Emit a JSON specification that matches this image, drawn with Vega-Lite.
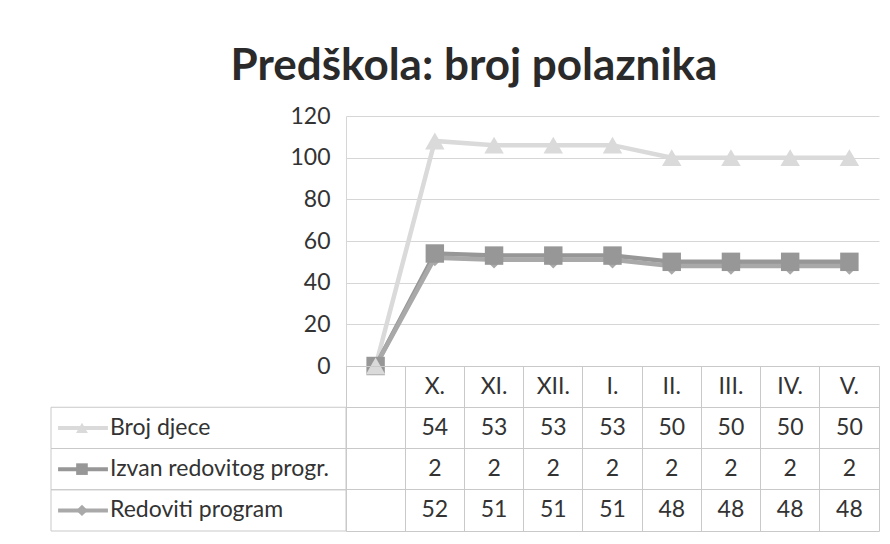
{
  "$schema": "https://vega.github.io/schema/vega-lite/v6.json",
  "background": "white",
  "padding": {"left": 50, "top": 45, "right": 10, "bottom": 5},
  "title": {"text": "Predškola: broj polaznika", "font": "Lato", "fontSize": 44, "fontWeight": "bold", "color": "#2a2a2a", "anchor": "middle", "offset": 16, "dx": 9},
  "datasets": {
    "d": [
      {"cat": "", "series": "Broj djece", "value": 0},
      {"cat": "X.", "series": "Broj djece", "value": 54},
      {"cat": "XI.", "series": "Broj djece", "value": 53},
      {"cat": "XII.", "series": "Broj djece", "value": 53},
      {"cat": "I.", "series": "Broj djece", "value": 53},
      {"cat": "II.", "series": "Broj djece", "value": 50},
      {"cat": "III.", "series": "Broj djece", "value": 50},
      {"cat": "IV.", "series": "Broj djece", "value": 50},
      {"cat": "V.", "series": "Broj djece", "value": 50},
      {"cat": "", "series": "Izvan redovitog progr.", "value": 0},
      {"cat": "X.", "series": "Izvan redovitog progr.", "value": 2},
      {"cat": "XI.", "series": "Izvan redovitog progr.", "value": 2},
      {"cat": "XII.", "series": "Izvan redovitog progr.", "value": 2},
      {"cat": "I.", "series": "Izvan redovitog progr.", "value": 2},
      {"cat": "II.", "series": "Izvan redovitog progr.", "value": 2},
      {"cat": "III.", "series": "Izvan redovitog progr.", "value": 2},
      {"cat": "IV.", "series": "Izvan redovitog progr.", "value": 2},
      {"cat": "V.", "series": "Izvan redovitog progr.", "value": 2},
      {"cat": "", "series": "Redoviti program", "value": 0},
      {"cat": "X.", "series": "Redoviti program", "value": 52},
      {"cat": "XI.", "series": "Redoviti program", "value": 51},
      {"cat": "XII.", "series": "Redoviti program", "value": 51},
      {"cat": "I.", "series": "Redoviti program", "value": 51},
      {"cat": "II.", "series": "Redoviti program", "value": 48},
      {"cat": "III.", "series": "Redoviti program", "value": 48},
      {"cat": "IV.", "series": "Redoviti program", "value": 48},
      {"cat": "V.", "series": "Redoviti program", "value": 48}
    ]
  },
  "data": {"name": "d"},
  "columns": 2,
  "spacing": 0,
  "bounds": "flush",
  "concat": [
    {
      "width": 295,
      "height": 250,
      "mark": {"type": "text"},
      "encoding": {"text": {"value": ""}}
    },
    {
      "width": 533,
      "height": 250,
      "transform": [
        {"stack": "value", "groupby": ["cat"], "sort": [{"field": "series", "order": "descending"}], "as": ["v0", "v1"]}
      ],
      "encoding": {
        "x": {"field": "cat", "type": "ordinal", "sort": null, "scale": {"type": "point", "domain": ["", "X.", "XI.", "XII.", "I.", "II.", "III.", "IV.", "V."], "padding": 0.5}, "axis": null},
        "y": {"field": "v1", "type": "quantitative", "scale": {"domain": [0, 120], "nice": false},
              "axis": {"values": [0, 20, 40, 60, 80, 100, 120], "title": null, "grid": true, "gridColor": "#d6d6d6", "ticks": false, "domainColor": "#d6d6d6", "labelFontSize": 23, "labelColor": "#333333", "labelPadding": 16, "labelFont": "Lato"}},
        "color": {"field": "series", "type": "nominal", "scale": {"domain": ["Redoviti program", "Izvan redovitog progr.", "Broj djece"], "range": ["#a9a9a9", "#979797", "#dadada"]}, "legend": null}
      },
      "layer": [
        {"mark": {"type": "line", "strokeWidth": 4.5}},
        {"mark": {"type": "point", "filled": true, "opacity": 1},
         "encoding": {
           "shape": {"field": "series", "type": "nominal", "scale": {"domain": ["Redoviti program", "Izvan redovitog progr.", "Broj djece"], "range": ["diamond", "square", "triangle-up"]}, "legend": null},
           "size": {"field": "series", "type": "nominal", "scale": {"domain": ["Redoviti program", "Izvan redovitog progr.", "Broj djece"], "range": [300, 380, 560]}, "legend": null},
           "order": {"field": "series", "sort": "descending"}
         }}
      ]
    },
    {
      "width": 295,
      "height": 165,
      "transform": [{"filter": "datum.cat === 'X.'"}],
      "encoding": {
        "y": {"field": "series", "type": "nominal", "scale": {"type": "band", "domain": ["hdr", "Broj djece", "Izvan redovitog progr.", "Redoviti program"], "paddingInner": 0, "paddingOuter": 0}, "axis": null}
      },
      "layer": [
        {"mark": {"type": "rect", "filled": false, "color": "#c9c9c9", "strokeWidth": 1}},
        {"mark": {"type": "rule", "strokeWidth": 4},
         "encoding": {
           "x": {"datum": 0.024, "type": "quantitative", "scale": {"domain": [0, 1], "nice": false}, "axis": null},
           "x2": {"datum": 0.193},
           "color": {"field": "series", "type": "nominal", "scale": {"domain": ["Redoviti program", "Izvan redovitog progr.", "Broj djece"], "range": ["#a9a9a9", "#979797", "#dadada"]}, "legend": null}
         }},
        {"mark": {"type": "point", "filled": true, "opacity": 1},
         "encoding": {
           "x": {"datum": 0.105, "type": "quantitative"},
           "color": {"field": "series", "type": "nominal", "legend": null},
           "shape": {"field": "series", "type": "nominal", "scale": {"domain": ["Redoviti program", "Izvan redovitog progr.", "Broj djece"], "range": ["diamond", "square", "triangle-up"]}, "legend": null},
           "size": {"field": "series", "type": "nominal", "scale": {"domain": ["Redoviti program", "Izvan redovitog progr.", "Broj djece"], "range": [130, 140, 200]}, "legend": null}
         }},
        {"mark": {"type": "text", "align": "left", "fontSize": 23, "color": "#333333", "font": "Lato"},
         "encoding": {
           "x": {"datum": 0.2, "type": "quantitative"},
           "text": {"field": "series"}
         }}
      ],
      "resolve": {"scale": {"size": "independent"}}
    },
    {
      "width": 533,
      "height": 165,
      "view": {"stroke": "#c9c9c9"},
      "transform": [{"filter": "datum.cat !== ''"}],
      "mark": {"type": "text", "fontSize": 23, "color": "#333333", "font": "Lato"},
      "encoding": {
        "x": {"field": "cat", "type": "ordinal", "sort": null, "scale": {"type": "band", "domain": ["", "X.", "XI.", "XII.", "I.", "II.", "III.", "IV.", "V."], "paddingInner": 0, "paddingOuter": 0},
              "axis": {"orient": "top", "title": null, "grid": true, "bandPosition": 0, "gridColor": "#c9c9c9", "ticks": false, "domain": false, "labelFontSize": 23, "labelFont": "Lato", "labelColor": "#333333", "labelBaseline": "middle", "labelPadding": -20.5, "labelAngle": 0}},
        "y": {"field": "series", "type": "nominal", "scale": {"type": "band", "domain": ["hdr", "Broj djece", "Izvan redovitog progr.", "Redoviti program"], "paddingInner": 0, "paddingOuter": 0},
              "axis": {"grid": true, "bandPosition": 0, "gridColor": "#c9c9c9", "labels": false, "ticks": false, "domain": false, "title": null}},
        "text": {"field": "value"}
      }
    }
  ],
  "resolve": {"scale": {"size": "independent"}},
  "config": {"view": {"stroke": null}, "font": "Lato"}
}
